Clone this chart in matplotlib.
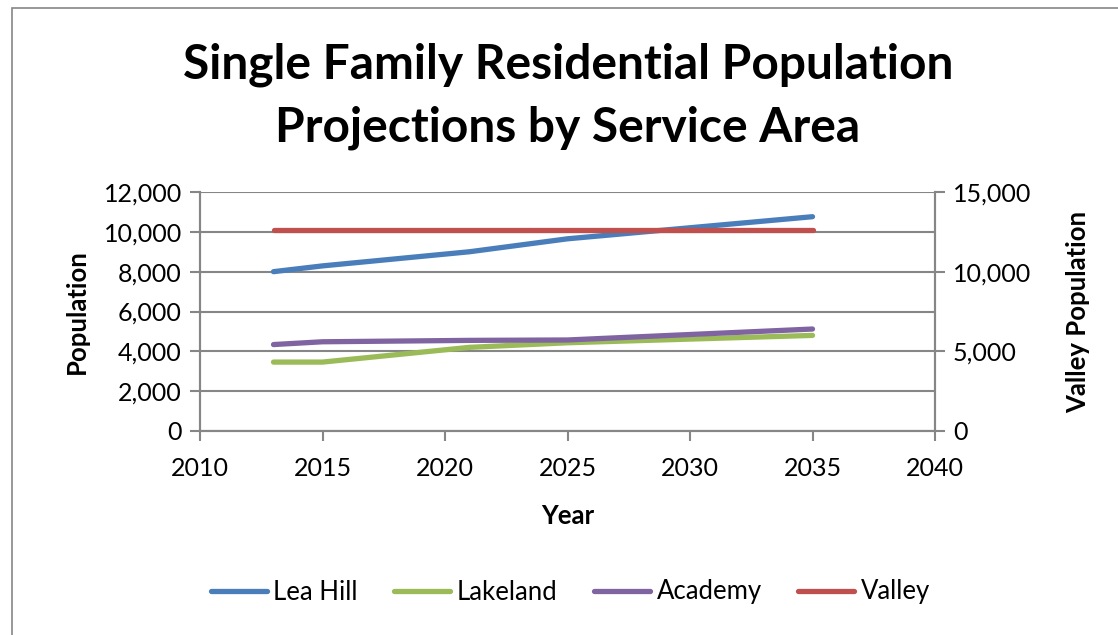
import matplotlib
matplotlib.use("Agg")
import matplotlib.pyplot as plt
from matplotlib.patches import Rectangle
from matplotlib.ticker import FuncFormatter, MultipleLocator

# Projection years and population per service area
years = [2013, 2015, 2021, 2025, 2035]
lea_hill = [8000, 8290, 9000, 9650, 10760]
lakeland = [3460, 3460, 4200, 4430, 4800]
academy = [4340, 4480, 4550, 4570, 5120]
valley = [12600, 12600, 12600, 12600, 12600]

series_names = ["Lea Hill", "Lakeland", "Academy", "Valley"]
colors = {"Lea Hill": "#4A7EBB", "Lakeland": "#9BBB59",
          "Academy": "#8064A2", "Valley": "#C0504D"}

GRID = "#868686"
FONT = "Lato"
plt.rcParams["font.family"] = [FONT, "DejaVu Sans"]

fig = plt.figure(figsize=(11.18, 6.35), dpi=100)
fig.patch.set_facecolor("white")

# chart-area border (open to the right and bottom)
fig.add_artist(Rectangle((12 / 1118, -0.2), 1.2, 1 - 8 / 635 + 0.2,
                         transform=fig.transFigure, fill=False,
                         edgecolor=GRID, linewidth=1.2, zorder=0))

ax = fig.add_axes([200 / 1118, 1 - 431 / 635, 735 / 1118, 239 / 635])
ax2 = ax.twinx()

lw = 3.8
handles = []
for name, vals in [("Lea Hill", lea_hill), ("Lakeland", lakeland), ("Academy", academy)]:
    h, = ax.plot(years, vals, color=colors[name], lw=lw,
                 solid_capstyle="round", solid_joinstyle="round", label=name, zorder=3)
    handles.append(h)
h, = ax2.plot(years, valley, color=colors["Valley"], lw=lw,
              solid_capstyle="round", solid_joinstyle="round", label="Valley", zorder=3)
handles.append(h)

ax.set_xlim(2010, 2040)
ax.set_ylim(0, 12000)
ax2.set_ylim(0, 15000)
ax.xaxis.set_major_locator(MultipleLocator(5))
ax.yaxis.set_major_locator(MultipleLocator(2000))
ax2.yaxis.set_major_locator(MultipleLocator(5000))

fmt = FuncFormatter(lambda v, p: f"{int(v):,}")
ax.yaxis.set_major_formatter(fmt)
ax2.yaxis.set_major_formatter(fmt)

ax.grid(axis="y", color=GRID, linewidth=1.5)
ax.set_axisbelow(True)

for a in (ax, ax2):
    a.spines["top"].set_visible(False)
    for side in ("left", "right", "bottom"):
        a.spines[side].set_color(GRID)
        a.spines[side].set_linewidth(1.5)
    a.tick_params(axis="both", which="major", direction="out", length=7,
                  width=1.5, color=GRID, labelsize=18, labelcolor="black", pad=6)
ax.tick_params(axis="x", pad=12)

ax.set_xlabel("Year", fontsize=18.5, fontweight="bold", labelpad=17)
ax.set_ylabel("Population", fontsize=18.5, fontweight="bold", labelpad=11)
ax2.set_ylabel("Valley Population", fontsize=18.5, fontweight="bold", labelpad=25)

fig.text(0.508, 1 - 65 / 635, "Single Family Residential Population",
         ha="center", va="center", fontsize=34.5, fontweight="bold")
fig.text(0.508, 1 - 128 / 635, "Projections by Service Area",
         ha="center", va="center", fontsize=34.5, fontweight="bold")

fig.legend(handles, series_names, loc="center", bbox_to_anchor=(0.51, 1 - 592 / 635),
           ncol=4, frameon=False, fontsize=18.5, handlelength=2.2,
           columnspacing=1.4, handletextpad=0.25)

fig.savefig("out.png", dpi=100, facecolor="white")
